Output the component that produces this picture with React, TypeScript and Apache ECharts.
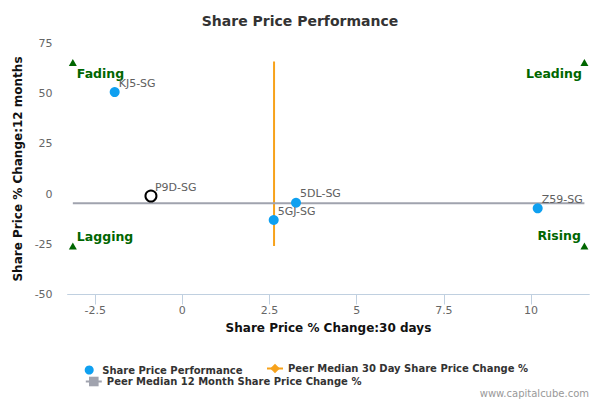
import React, { useEffect, useRef } from "react";
import * as echarts from "echarts";

const companyNames = ["KJ5-SG", "P9D-SG", "5DL-SG", "5GJ-SG", "Z59-SG"];
const change30d = [-1.94, -0.9, 3.26, 2.62, 10.19];
const change12m = [50.8, -0.95, -4.3, -12.9, -7.1];
const focusCompany = "P9D-SG";

const peerMedian30d = 2.63;
const peerMedian12m = -4.6;
const spanX = [-3.14, 11.53];
const spanY = [-25.8, 66.0];

const quadrantNames = ["Fading", "Leading", "Lagging", "Rising"];
const quadrantX = [-3.14, 11.53, -3.14, 11.53];
const quadrantY = [65.6, 65.6, -25.8, -25.8];

const xTicks = [-2.5, 0, 2.5, 5, 7.5, 10];
const xMin = -3.29;
const xMax = 11.67;
const yMin = -50;
const yMax = 75;
const yStep = 25;

const FONT = "DejaVu Sans";
const GREEN = "#006600";

export default function App() {
  const ref = useRef<HTMLDivElement>(null);
  useEffect(() => {
    if (!ref.current) return;
    const chart = echarts.init(ref.current, undefined, { renderer: "svg" });

    const pointData = companyNames.map((n, i) => {
      const item: any = { name: n, value: [change30d[i], change12m[i]] };
      if (n === focusCompany) {
        item.itemStyle = { color: "#ffffff", borderColor: "#000000", borderWidth: 2, opacity: 1 };
        item.symbolSize = 11;
      }
      return item;
    });

    const quadLabelCfg = [
      { align: "left", offset: [4, 11] },
      { align: "right", offset: [-2.5, 11] },
      { align: "left", offset: [4, -9.5] },
      { align: "right", offset: [-3.5, -10.5] },
    ];
    const quadData = quadrantNames.map((n, i) => ({
      name: n,
      value: [quadrantX[i], quadrantY[i]],
      label: {
        show: true,
        formatter: n,
        position: "inside",
        align: quadLabelCfg[i].align,
        verticalAlign: "middle",
        offset: quadLabelCfg[i].offset,
        color: GREEN,
        fontSize: 12.5,
        fontWeight: "bold",
        fontFamily: FONT,
        textBorderWidth: 0,
      },
    }));

    const legendText = { fontSize: 10, fontWeight: "bold", color: "#333", fontFamily: FONT };

    chart.setOption({
      animation: false,
      textStyle: { fontFamily: FONT },
      title: {
        text: "Share Price Performance",
        left: "center",
        top: 9,
        textStyle: { fontSize: 14, fontWeight: "bold", color: "#333", fontFamily: FONT },
      },
      grid: { left: 67.6, top: 43.5, width: 521.7, height: 251, containLabel: false },
      xAxis: {
        type: "value",
        min: xMin,
        max: xMax,
        name: "Share Price % Change:30 days",
        nameLocation: "middle",
        nameGap: 27,
        nameTextStyle: { fontSize: 12, fontWeight: "bold", color: "#111", fontFamily: FONT },
        axisLine: { show: true, onZero: false, lineStyle: { color: "#c0d0e0", width: 1 } },
        axisTick: { show: true, length: 10, lineStyle: { color: "#c0d0e0" }, customValues: xTicks },
        axisLabel: { color: "#666", fontSize: 11, margin: 10, customValues: xTicks },
        splitLine: { show: false },
      },
      yAxis: {
        type: "value",
        min: yMin,
        max: yMax,
        interval: yStep,
        name: "Share Price % Change:12 months",
        nameLocation: "middle",
        nameGap: 33,
        nameTextStyle: { fontSize: 12, fontWeight: "bold", color: "#111", fontFamily: FONT },
        axisLine: { show: false, onZero: false },
        axisTick: { show: false },
        axisLabel: { color: "#666", fontSize: 11, margin: 15 },
        splitLine: { show: false },
      },
      legend: [
        {
          data: ["Share Price Performance"],
          left: 84.7,
          top: 365,
          padding: 0,
          itemWidth: 16,
          itemHeight: 9,
          textStyle: legendText,
        },
        {
          data: ["Peer Median 30 Day Share Price Change %"],
          left: 266,
          top: 363.5,
          padding: 0,
          itemWidth: 16,
          itemHeight: 12,
          textStyle: legendText,
        },
        {
          data: ["Peer Median 12 Month Share Price Change %"],
          left: 84.8,
          top: 376.5,
          padding: 0,
          itemWidth: 16,
          itemHeight: 12,
          textStyle: legendText,
        },
      ],
      graphic: [
        {
          type: "text",
          x: 589,
          y: 393,
          style: {
            text: "www.capitalcube.com",
            align: "right",
            verticalAlign: "middle",
            fontSize: 10,
            fill: "#999",
            fontFamily: FONT,
          },
        },
      ],
      series: [
        {
          name: "Peer Median 30 Day Share Price Change %",
          type: "line",
          data: [
            [peerMedian30d, spanY[0]],
            [peerMedian30d, spanY[1]],
          ],
          symbol: "diamond",
          showSymbol: false,
          color: "#f7a21b",
          lineStyle: { width: 2, color: "#f7a21b" },
          z: 2,
        },
        {
          name: "Peer Median 12 Month Share Price Change %",
          type: "line",
          data: [
            [spanX[0], peerMedian12m],
            [spanX[1], peerMedian12m],
          ],
          symbol: "rect",
          showSymbol: false,
          color: "#a0a3ae",
          lineStyle: { width: 2, color: "#a0a3ae" },
          z: 2,
        },
        {
          name: "Share Price Performance",
          type: "scatter",
          data: pointData,
          symbol: "circle",
          symbolSize: 10,
          color: "#0fa0f0",
          itemStyle: { color: "#0fa0f0", opacity: 1 },
          label: {
            show: true,
            formatter: "{b}",
            position: "inside",
            align: "left",
            verticalAlign: "middle",
            offset: [4, -9],
            color: "#606060",
            fontSize: 11,
            fontFamily: FONT,
            textBorderWidth: 0,
          },
          z: 5,
        },
        {
          name: "quadrants",
          type: "scatter",
          data: quadData,
          symbol: "triangle",
          symbolSize: [8, 7],
          itemStyle: { color: GREEN, opacity: 1 },
          clip: false,
          z: 4,
        },
      ],
    });
    return () => chart.dispose();
  }, []);
  return (
    <div
      ref={ref}
      style={{ position: "fixed", left: 0, top: 0, width: 600, height: 400, background: "#fff" }}
    />
  );
}
